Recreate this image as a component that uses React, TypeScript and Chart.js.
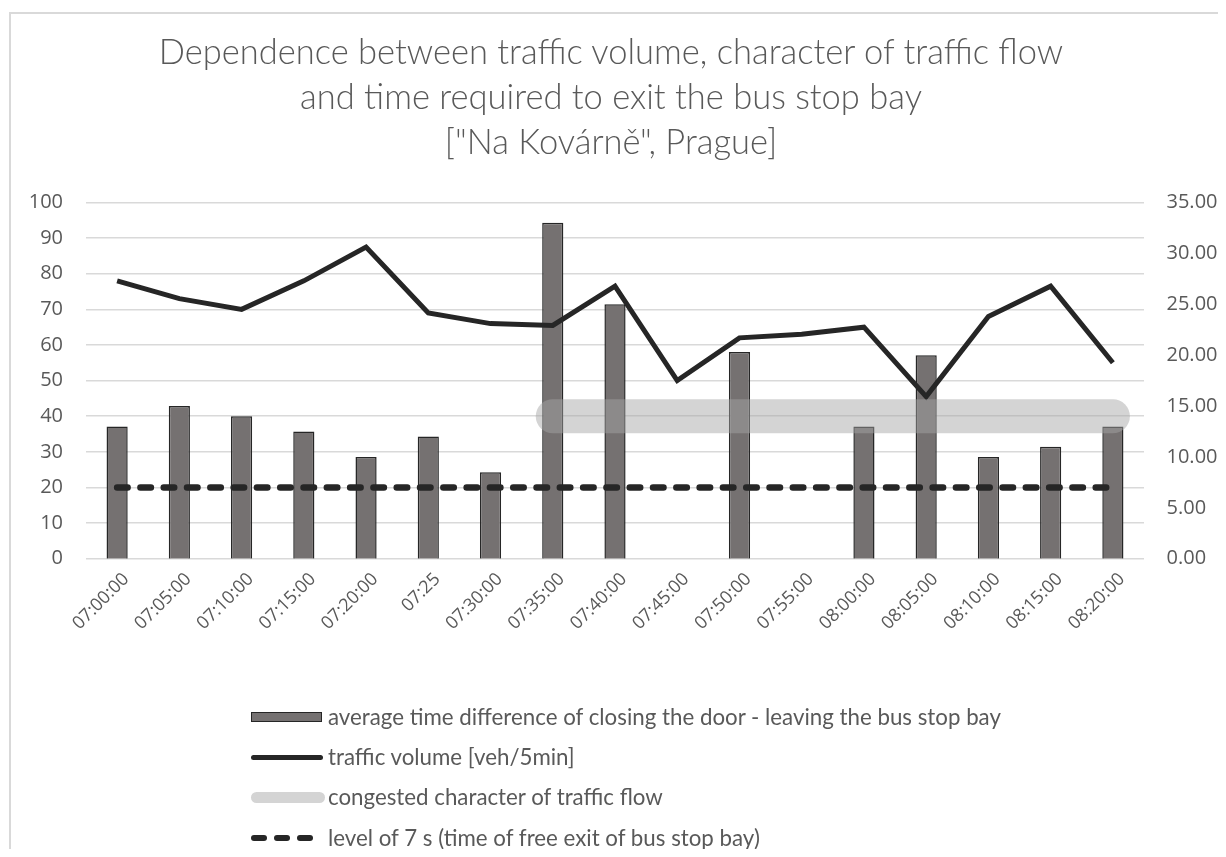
import React, { useEffect, useRef } from "react";
import { Chart, registerables } from "chart.js";

Chart.register(...registerables);

const categories = [
  "07:00:00", "07:05:00", "07:10:00", "07:15:00", "07:20:00", "07:25", "07:30:00",
  "07:35:00", "07:40:00", "07:45:00", "07:50:00", "07:55:00", "08:00:00", "08:05:00",
  "08:10:00", "08:15:00", "08:20:00",
];

// average time difference closing door - leaving bay [s] (right axis)
const timeDiff = [13.0, 15.0, 14.0, 12.5, 10.0, 12.0, 8.5, 33.0, 25.0, null, 20.3, null, 13.0, 20.0, 10.0, 11.0, 13.0];

// traffic volume [veh/5min] (left axis)
const trafficVolume = [78, 73, 70, 78, 87.5, 69, 66, 65.5, 76.5, 50, 62, 63, 65, 45.5, 68, 76.5, 55];

// congested character of traffic flow (right axis level)
const congested = [null, null, null, null, null, null, null, 14, 14, 14, 14, 14, 14, 14, 14, 14, 14];

// level of 7 s (right axis)
const freeExit = [7, 7, 7, 7, 7, 7, 7, 7, 7, 7, 7, 7, 7, 7, 7, 7, 7];

const leftTicks = [0, 10, 20, 30, 40, 50, 60, 70, 80, 90, 100];
const rightTicks = [0, 5, 10, 15, 20, 25, 30, 35];

const titleLines = [
  "Dependence between traffic volume, character of traffic flow",
  "and time required to exit the bus stop bay",
  "[\"Na Kovárně\", Prague]",
];

const legendLabels = [
  "average time difference of closing the door - leaving the bus stop bay",
  "traffic volume [veh/5min]",
  "congested character of traffic flow",
  "level of 7 s (time of free exit of bus stop bay)",
];

const TEXT = "#595959";
const DARK = "#262626";
const BAR = "#757171";
const BAND = "rgba(165,165,165,0.48)";
const GRID = "#d9d9d9";

export default function App() {
  const ref = useRef<HTMLCanvasElement | null>(null);

  useEffect(() => {
    if (!ref.current) return;
    const chart = new Chart(ref.current, {
      type: "bar",
      data: {
        labels: categories,
        datasets: [
          {
            type: "line",
            label: legendLabels[2],
            data: congested,
            yAxisID: "y1",
            borderColor: BAND,
            borderWidth: 34,
            borderCapStyle: "round",
            borderJoinStyle: "round",
            pointRadius: 0,
            spanGaps: false,
            order: 0,
          } as any,
          {
            type: "line",
            label: legendLabels[1],
            data: trafficVolume,
            yAxisID: "y",
            borderColor: DARK,
            borderWidth: 5,
            pointRadius: 0,
            tension: 0,
            order: 1,
          } as any,
          {
            type: "line",
            label: legendLabels[3],
            data: freeExit,
            yAxisID: "y1",
            borderColor: DARK,
            borderWidth: 6.5,
            borderDash: [10.5, 12.8],
            borderCapStyle: "round",
            pointRadius: 0,
            order: 2,
          } as any,
          {
            type: "bar",
            label: legendLabels[0],
            data: timeDiff,
            yAxisID: "y1",
            backgroundColor: BAR,
            borderColor: DARK,
            borderWidth: 1.5,
            barPercentage: 0.34,
            categoryPercentage: 1,
            order: 3,
          } as any,
        ],
      },
      options: {
        responsive: false,
        animation: false,
        devicePixelRatio: 1,
        layout: { padding: { top: 202.5, left: 0, right: 0, bottom: 0 } },
        plugins: {
          legend: { display: false },
          title: { display: false },
          tooltip: { enabled: false },
        },
        scales: {
          x: {
            grid: { display: false, drawTicks: false },
            border: { display: false },
            ticks: {
              autoSkip: false,
              maxRotation: 45,
              minRotation: 45,
              color: TEXT,
              padding: 10,
              labelOffset: 9,
              font: { family: "'Open Sans'", size: 18 },
            },
            afterFit: (s: any) => {
              s.height = 298.3;
            },
          },
          y: {
            position: "left",
            min: 0,
            max: 100,
            afterBuildTicks: (s: any) => {
              s.ticks = leftTicks.map((v) => ({ value: v }));
            },
            grid: { color: GRID, lineWidth: 1.5, drawTicks: false },
            border: { display: false },
            ticks: {
              color: TEXT,
              padding: 23,
              font: { family: "'Open Sans'", size: 20 },
            },
            afterFit: (s: any) => {
              s.width = 86;
            },
          },
          y1: {
            position: "right",
            min: 0,
            max: 35,
            afterBuildTicks: (s: any) => {
              s.ticks = rightTicks.map((v) => ({ value: v }));
            },
            grid: { display: false, drawTicks: false },
            border: { display: false },
            ticks: {
              color: TEXT,
              padding: 22.5,
              font: { family: "'Open Sans'", size: 20 },
              callback: (v: any) => Number(v).toFixed(2),
            },
            afterFit: (s: any) => {
              s.width = 82;
            },
          },
        },
      },
    });
    return () => chart.destroy();
  }, []);

  const rowTop = [697, 737, 777, 818];
  const markerStyle: React.CSSProperties = { position: "absolute", left: 251 };

  const markers = [
    <div key="m0" style={{ ...markerStyle, top: 15, width: 69, height: 8, background: BAR, border: `1.5px solid ${DARK}` }} />,
    <div key="m1" style={{ ...markerStyle, top: 17.5, width: 72, height: 5, background: DARK, borderRadius: 3 }} />,
    <div key="m2" style={{ ...markerStyle, top: 14.5, width: 74, height: 11, background: "#d4d4d4", borderRadius: 6 }} />,
    <div key="m3" style={{ ...markerStyle, top: 17, width: 72, height: 6, display: "flex", gap: 7 }}>
      {[0, 1, 2].map((i) => (
        <div key={i} style={{ width: 16, height: 6, background: DARK, borderRadius: 3 }} />
      ))}
    </div>,
  ];

  return (
    <div style={{ position: "relative", width: 1226, height: 857, margin: -8, overflow: "hidden", background: "#fff" }}>
      <div
        style={{
          position: "absolute",
          left: 9,
          top: 12,
          width: 1300,
          height: 900,
          borderLeft: `2px solid ${GRID}`,
          borderTop: `2px solid ${GRID}`,
          boxSizing: "border-box",
        }}
      />
      <canvas ref={ref} width={1226} height={857} style={{ position: "absolute", left: 0, top: 0, display: "block" }} />
      <div
        style={{
          position: "absolute",
          left: 0,
          top: 28,
          width: 1222,
          textAlign: "center",
          fontFamily: "Lato, 'Open Sans', sans-serif",
          fontWeight: 300,
          fontSize: 34.5,
          lineHeight: "45px",
          color: TEXT,
        }}
      >
        {titleLines.map((t, i) => (
          <div key={i}>{t}</div>
        ))}
      </div>
      {legendLabels.map((t, i) => (
        <div key={i} style={{ position: "absolute", left: 0, top: rowTop[i], width: 1226, height: 40 }}>
          {markers[i]}
          <div
            style={{
              position: "absolute",
              left: 328,
              top: 0,
              lineHeight: "40px",
              fontFamily: "Lato, 'Open Sans', sans-serif",
              fontSize: 22.3,
              color: TEXT,
              whiteSpace: "nowrap",
            }}
          >
            {t}
          </div>
        </div>
      ))}
    </div>
  );
}
